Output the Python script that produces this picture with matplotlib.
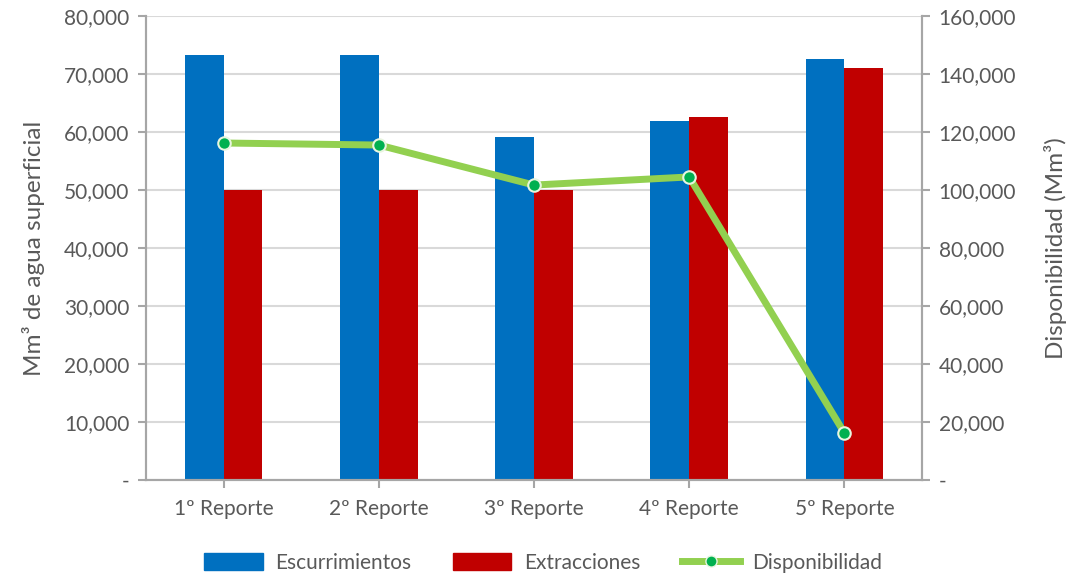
import numpy as np
import matplotlib
matplotlib.use('Agg')
import matplotlib.pyplot as plt
from matplotlib.ticker import FuncFormatter, MultipleLocator
from matplotlib.lines import Line2D
from matplotlib.patches import Patch

plt.rcParams['font.family'] = ['Lato', 'DejaVu Sans']

# datos
reportes = ['1º Reporte', '2º Reporte', '3º Reporte', '4º Reporte', '5º Reporte']
escurrimientos = [73300, 73300, 59100, 61900, 72600]
extracciones = [50000, 50000, 50000, 62600, 71000]
disponibilidad = [116200, 115500, 101700, 104500, 16200]

AZUL = '#0070c0'
ROJO = '#c00000'
VERDE = '#92d050'
VERDE_OSC = '#00b050'
GRIS_TXT = '#595959'
GRIS_EJE = '#a6a6a6'
GRIS_GRID = '#d9d9d9'


def fmt(v, pos):
    return '-' if abs(v) < 1e-6 else f'{v:,.0f}'


fig = plt.figure(figsize=(10.76, 5.77), dpi=100)
ax = fig.add_axes([0.1357, 0.1681, 0.7212, 0.8042])
ax2 = ax.twinx()

x = np.arange(len(reportes))
w = 0.25
ax.bar(x - w / 2, escurrimientos, width=w, color=AZUL, zorder=2)
ax.bar(x + w / 2, extracciones, width=w, color=ROJO, zorder=2)

ax2.plot(x, disponibilidad, color=VERDE, linewidth=5, marker='o', markersize=9,
         markerfacecolor=VERDE_OSC, markeredgecolor='#e8f5e0', markeredgewidth=1.5,
         solid_capstyle='round', zorder=3)

ax.set_xlim(-0.5, len(reportes) - 0.5)
ax.set_ylim(0, 80000)
ax2.set_ylim(0, 160000)
ax.yaxis.set_major_locator(MultipleLocator(10000))
ax2.yaxis.set_major_locator(MultipleLocator(20000))
ax.yaxis.set_major_formatter(FuncFormatter(fmt))
ax2.yaxis.set_major_formatter(FuncFormatter(fmt))

ax.set_xticks(x)
ax.set_xticklabels(reportes)

ax.grid(axis='y', color=GRIS_GRID, linewidth=1.5, zorder=0)
ax.set_axisbelow(True)

for a in (ax, ax2):
    a.spines['top'].set_visible(False)
    for s in ('left', 'right', 'bottom'):
        a.spines[s].set_color(GRIS_EJE)
        a.spines[s].set_linewidth(1.5)
    a.tick_params(colors=GRIS_EJE, labelcolor=GRIS_TXT, labelsize=15,
                  length=6, width=1.5)
ax.tick_params(axis='x', pad=8)
ax.tick_params(axis='y', pad=6)
ax2.tick_params(axis='y', pad=6)

ax.set_ylabel('Mm³ de agua superficial', fontsize=17.5, color=GRIS_TXT, labelpad=14)
ax2.set_ylabel('Disponibilidad (Mm³)', fontsize=17.5, color=GRIS_TXT, labelpad=20)

handles = [
    Patch(color=AZUL, label='Escurrimientos'),
    Patch(color=ROJO, label='Extracciones'),
    Line2D([0], [0], color=VERDE, linewidth=5, marker='o', markersize=8,
           markerfacecolor=VERDE_OSC, markeredgecolor='#e8f5e0',
           label='Disponibilidad'),
]
fig.legend(handles=handles, loc='center', bbox_to_anchor=(0.505, 0.025), ncol=3,
           frameon=False, fontsize=15, labelcolor=GRIS_TXT, handlelength=2.8,
           handleheight=0.9, columnspacing=2.0, handletextpad=0.6)

fig.savefig('out.png', dpi=100, facecolor='white')
